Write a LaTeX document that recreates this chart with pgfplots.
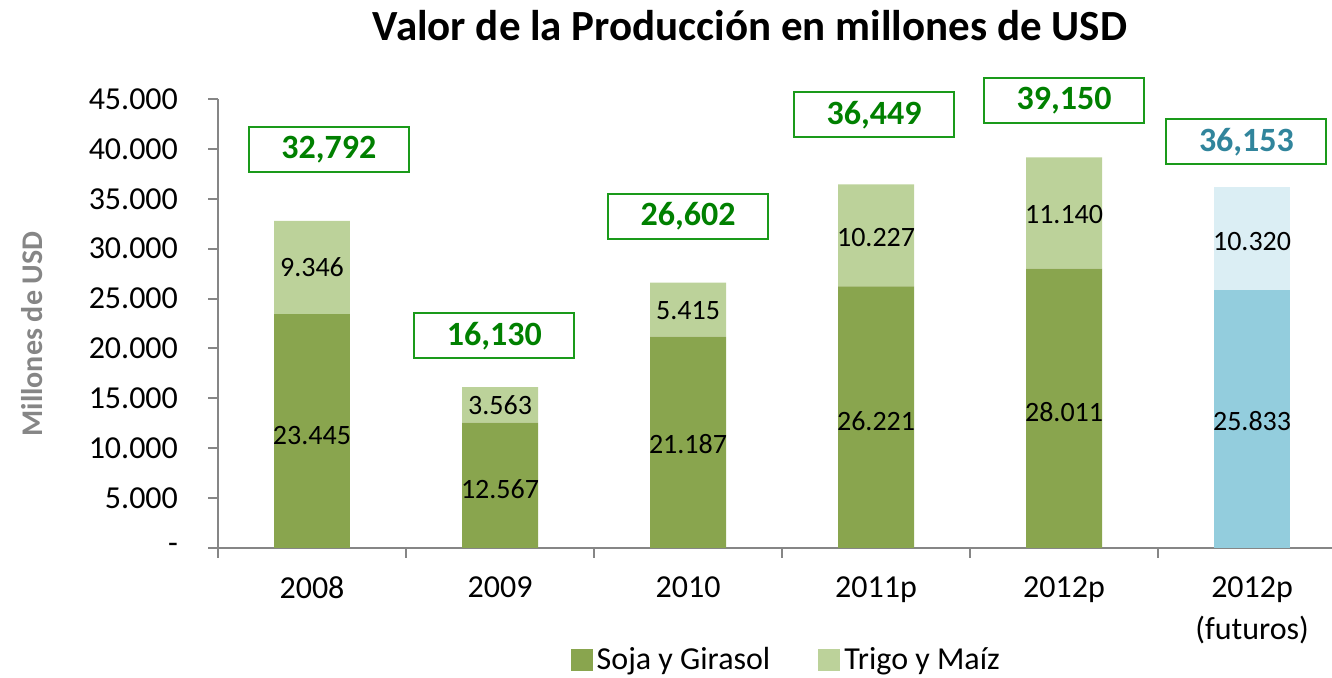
\documentclass[border=0pt]{standalone}
\usepackage{pgfplots}
\pgfplotsset{compat=1.18}
\usepackage{fontspec}
\setmainfont{Carlito}

\definecolor{soja}{HTML}{89A54E}
\definecolor{trigo}{HTML}{BCD29A}
\definecolor{fut1}{HTML}{93CDDD}
\definecolor{fut2}{HTML}{DBEEF4}
\definecolor{axgray}{HTML}{868686}
\definecolor{totgreen}{HTML}{008000}
\definecolor{boxgreen}{HTML}{1A9A1A}
\definecolor{totblue}{HTML}{31859C}

\tikzset{
  seg/.style={font=\fontsize{14}{14}\selectfont},
  tot/.style={draw=boxgreen, line width=1pt, minimum width=80pt,
    minimum height=22.5pt, inner sep=0pt, font=\fontsize{17}{17}\selectfont\bfseries, text=totgreen},
}
\pgfplotsset{frame/.style={
    at={(109pt,65pt)}, anchor=south west,
    scale only axis,
    width=557pt, height=224.5pt,
    xmin=-0.5, xmax=5.425,
    ymin=0, ymax=45000,
    clip=false}}

\begin{document}
\begin{tikzpicture}
\path[use as bounding box] (0,0) rectangle (666pt,339pt);

\begin{axis}[
    frame,
    ybar stacked, bar width=0.404,
    scaled y ticks=false,
    axis lines*=left,
    axis line style={axgray, line width=1pt},
    tick style={axgray, line width=1pt},
    tick align=outside,
    major tick length=5pt,
    ytick={0,5000,...,45000},
    yticklabels={-,5.000,10.000,15.000,20.000,25.000,30.000,35.000,40.000,45.000},
    yticklabel style={font=\fontsize{16}{16}\selectfont, xshift=-11.5pt},
    xtick={-0.5,0.5,1.5,2.5,3.5,4.5},
    xticklabels={},
    extra x ticks={0,1,2,3,4,5},
    extra x tick labels={2008,2009,2010,2011p,2012p,{2012p\\(futuros)}},
    extra x tick style={major tick length=0pt,
        xticklabel style={font=\fontsize{16}{21}\selectfont, align=center, anchor=north, yshift=-11pt}},
    legend style={at={(0.511,-0.249)}, anchor=center, draw=none,
        legend columns=2, font=\fontsize{16}{16}\selectfont,
        /tikz/every even column/.append style={column sep=22pt}},
    legend image code/.code={\fill[#1] (0pt,-5.5pt) rectangle (11pt,5.5pt);},
]
\addplot[fill=soja, draw=none] coordinates {(0,23445) (1,12567) (2,21187) (3,26221) (4,28011) (5,0)};
\addplot[fill=trigo, draw=none] coordinates {(0,9346) (1,3563) (2,5415) (3,10227) (4,11140) (5,0)};
\addplot[fill=fut1, draw=none] coordinates {(0,0) (1,0) (2,0) (3,0) (4,0) (5,25833)};
\addplot[fill=fut2, draw=none] coordinates {(0,0) (1,0) (2,0) (3,0) (4,0) (5,10320)};
\legend{Soja y Girasol, Trigo y Maíz}
\end{axis}

% labels drawn over the bars
\begin{axis}[frame, hide axis]
\node[seg] at (axis cs:0,11300) {23.445};
\node[seg] at (axis cs:0,28100) {9.346};
\node[seg] at (axis cs:1,5900) {12.567};
\node[seg] at (axis cs:1,14300) {3.563};
\node[seg] at (axis cs:2,10400) {21.187};
\node[seg] at (axis cs:2,23800) {5.415};
\node[seg] at (axis cs:3,12700) {26.221};
\node[seg] at (axis cs:3,31100) {10.227};
\node[seg] at (axis cs:4,13600) {28.011};
\node[seg] at (axis cs:4,33400) {11.140};
\node[seg] at (axis cs:5,12700) {25.833};
\node[seg] at (axis cs:5,30700) {10.320};

\node[tot] at (axis cs:0.09,39900) {32,792};
\node[tot] at (axis cs:0.97,21250) {16,130};
\node[tot] at (axis cs:2,33270) {26,602};
\node[tot] at (axis cs:2.99,43400) {36,449};
\node[tot] at (axis cs:4,44800) {39,150};
\node[tot, text=totblue] at (axis cs:4.97,40690) {36,153};
\end{axis}

\node[font=\fontsize{21.5}{21.5}\selectfont\bfseries] at (375pt,326pt) {Valor de la Producción en millones de USD};
\node[font=\fontsize{15}{15}\selectfont\bfseries, text=axgray, rotate=90] at (16pt,172pt) {Millones de USD};
\end{tikzpicture}
\end{document}
